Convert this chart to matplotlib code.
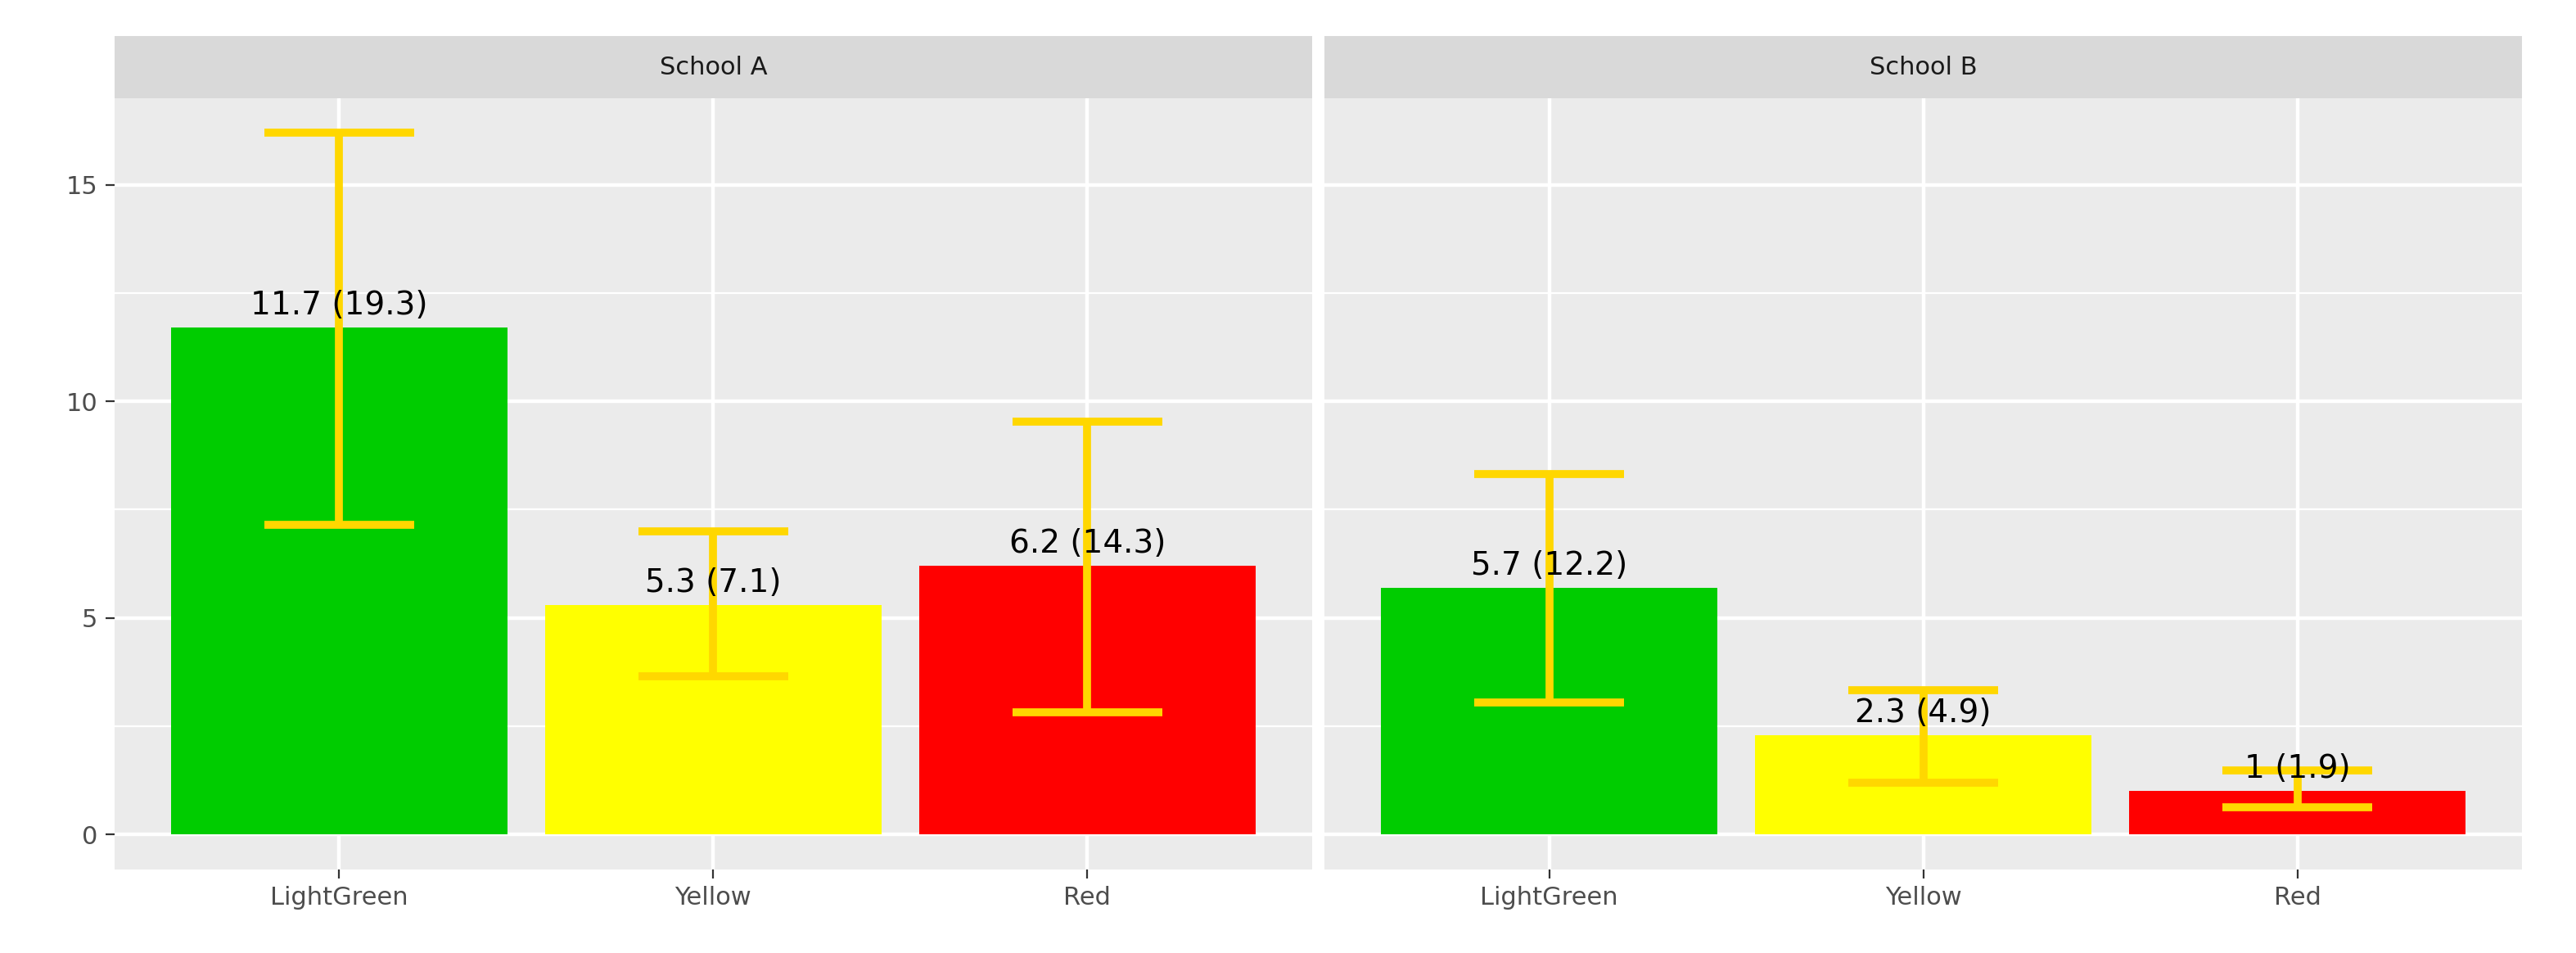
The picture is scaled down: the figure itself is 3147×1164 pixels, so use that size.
import matplotlib
matplotlib.use("Agg")
import matplotlib.pyplot as plt

categories = ["LightGreen", "Yellow", "Red"]
bar_colors = ["#00CC00", "#FFFF00", "#FF0000"]
schools = ["School A", "School B"]
means = {"School A": [11.7, 5.3, 6.2], "School B": [5.7, 2.3, 1.0]}
sds = {"School A": [19.3, 7.1, 14.3], "School B": [12.2, 4.9, 1.9]}
err_low = {"School A": [7.15, 3.65, 2.83], "School B": [3.05, 1.2, 0.62]}
err_high = {"School A": [16.2, 7.0, 9.54], "School B": [8.33, 3.33, 1.47]}
yticks = [0, 5, 10, 15]

fig = plt.figure(figsize=(15.735, 5.82), dpi=200)
L, R, B, T, ST = 0.0445, 0.979, 0.088, 0.897, 0.962
gap = 0.005
w = (R - L - gap) / 2
for i, s in enumerate(schools):
    x0 = L + i * (w + gap)
    ax = fig.add_axes([x0, B, w, T - B])
    sax = fig.add_axes([x0, T, w, ST - T])
    sax.set_facecolor("#D9D9D9")
    sax.set_xticks([]); sax.set_yticks([])
    for sp in sax.spines.values():
        sp.set_visible(False)
    sax.text(0.5, 0.5, s, ha="center", va="center", fontsize=11, color="#1A1A1A", transform=sax.transAxes)

    ax.set_facecolor("#EBEBEB")
    for sp in ax.spines.values():
        sp.set_visible(False)
    ax.set_ylim(-0.8, 17.0)
    ax.set_xlim(0.4, 3.6)
    minor = [2.5, 7.5, 12.5]
    for m in minor:
        ax.axhline(m, color="white", lw=0.8, zorder=0)
    for t in yticks:
        ax.axhline(t, color="white", lw=1.6, zorder=0)
    x = [1, 2, 3]
    for xi in x:
        ax.axvline(xi, color="white", lw=1.6, zorder=0)
    ax.bar(x, means[s], width=0.9, color=bar_colors, zorder=2)
    for xi, m, sd, lo, hi in zip(x, means[s], sds[s], err_low[s], err_high[s]):
        ax.plot([xi, xi], [lo, hi], color="#FFD700", lw=3.5, zorder=3, solid_capstyle="butt")
        for yv in (lo, hi):
            ax.plot([xi - 0.2, xi + 0.2], [yv, yv], color="#FFD700", lw=3.5, zorder=3, solid_capstyle="butt")
        lab = f"{m:g} ({sd:g})"
        ax.text(xi, m + 0.15, lab, ha="center", va="bottom", fontsize=14, color="black", zorder=4)
    ax.set_xticks(x)
    ax.set_xticklabels(categories, fontsize=11, color="#4D4D4D")
    ax.tick_params(axis="both", color="#333333", length=4)
    if i == 0:
        ax.set_yticks(yticks)
        ax.set_yticklabels([str(t) for t in yticks], fontsize=11, color="#4D4D4D")
    else:
        ax.set_yticks(yticks)
        ax.tick_params(axis="y", left=False, labelleft=False)

fig.savefig("out.png", dpi=200, facecolor="white")
